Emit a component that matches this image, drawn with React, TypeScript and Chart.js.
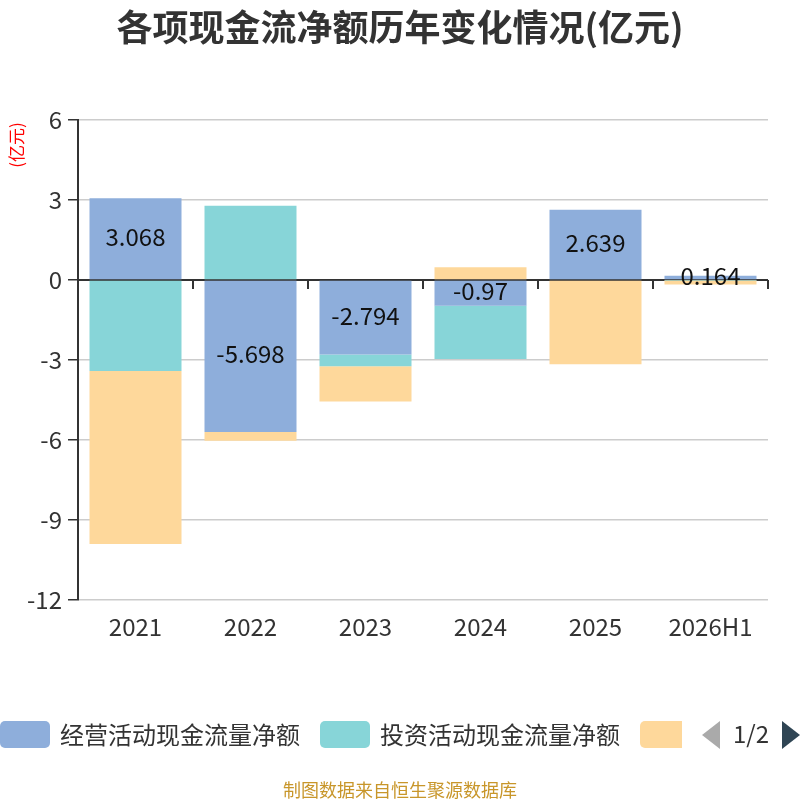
import React, { useEffect, useRef } from 'react';
import { Chart, registerables } from 'chart.js';

Chart.register(...registerables);

const categories = ['2021', '2022', '2023', '2024', '2025', '2026H1'];
const operatingCash = [3.068, -5.698, -2.794, -0.97, 2.639, 0.164];
const investingCash = [-3.41, 2.78, -0.44, -1.99, -0.03, -0.01];
const financingCash = [-6.49, -0.33, -1.32, 0.48, -3.13, -0.16];
const seriesNames = ['经营活动现金流量净额', '投资活动现金流量净额', '筹资活动现金流量净额'];
const seriesColors = ['#8eaedb', '#87d5d8', '#fed89b'];

const CJK = '"Noto Sans CJK SC", "Noto Sans", sans-serif';

const decorPlugin = {
  id: 'decor',
  beforeDatasetsDraw(chart: any) {
    const { ctx, chartArea, scales } = chart;
    const y0 = scales.y.getPixelForValue(0);
    ctx.save();
    ctx.strokeStyle = '#333';
    ctx.lineWidth = 2;
    ctx.beginPath();
    ctx.moveTo(chartArea.left, y0);
    ctx.lineTo(chartArea.right, y0);
    const step = (chartArea.right - chartArea.left) / categories.length;
    for (let i = 1; i <= categories.length; i++) {
      const x = Math.round(chartArea.left + step * i);
      ctx.moveTo(x, y0);
      ctx.lineTo(x, y0 + 9);
    }
    ctx.stroke();
    ctx.restore();
  },
  afterDatasetsDraw(chart: any) {
    const { ctx } = chart;
    const meta = chart.getDatasetMeta(0);
    ctx.save();
    ctx.fillStyle = '#111';
    ctx.font = `24px ${CJK}`;
    ctx.textAlign = 'center';
    ctx.textBaseline = 'middle';
    meta.data.forEach((bar: any, i: number) => {
      const cy = (bar.y + bar.base) / 2 - 2;
      ctx.fillText(String(operatingCash[i]), bar.x, cy);
    });
    ctx.restore();
  },
  afterDraw(chart: any) {
    const { ctx } = chart;
    ctx.save();
    // title
    ctx.fillStyle = '#333';
    ctx.font = `bold 36px ${CJK}`;
    ctx.textAlign = 'center';
    ctx.textBaseline = 'middle';
    ctx.fillText('各项现金流净额历年变化情况(亿元)', 400, 27);

    // unit label
    ctx.save();
    ctx.translate(17, 145);
    ctx.rotate(-Math.PI / 2);
    ctx.fillStyle = '#ff0000';
    ctx.font = `17px ${CJK}`;
    ctx.fillText('(亿元)', 0, 0);
    ctx.restore();

    // legend
    const boxes = [
      { x: 0, w: 50 },
      { x: 320, w: 50 },
      { x: 640, w: 42 },
    ];
    ctx.font = `24px ${CJK}`;
    ctx.textAlign = 'left';
    boxes.forEach((b, i) => {
      ctx.fillStyle = seriesColors[i];
      ctx.beginPath();
      ctx.roundRect(b.x, 721, b.w, 27, i === 2 ? [5, 0, 0, 5] : 5);
      ctx.fill();
      if (i < 2) {
        ctx.fillStyle = '#333';
        ctx.fillText(seriesNames[i], b.x + 60, 735);
      }
    });
    // pager
    ctx.fillStyle = '#aaa';
    ctx.beginPath();
    ctx.moveTo(702, 735);
    ctx.lineTo(720, 721);
    ctx.lineTo(720, 749);
    ctx.closePath();
    ctx.fill();
    ctx.fillStyle = '#333';
    ctx.textAlign = 'center';
    ctx.fillText('1/2', 751, 734);
    ctx.fillStyle = '#2f4554';
    ctx.beginPath();
    ctx.moveTo(800, 735);
    ctx.lineTo(782, 721);
    ctx.lineTo(782, 749);
    ctx.closePath();
    ctx.fill();

    // footer
    ctx.fillStyle = '#c8962a';
    ctx.font = `18px ${CJK}`;
    ctx.fillText('制图数据来自恒生聚源数据库', 400, 790);
    ctx.restore();
  },
};

const App: React.FC = () => {
  const chartRef = useRef<HTMLCanvasElement | null>(null);
  const chartInstance = useRef<Chart | null>(null);

  useEffect(() => {
    document.body.style.margin = '0';
    if (!chartRef.current) return;
    if (chartInstance.current) chartInstance.current.destroy();

    const values = [operatingCash, investingCash, financingCash];
    chartInstance.current = new Chart(chartRef.current, {
      type: 'bar',
      data: {
        labels: categories,
        datasets: values.map((data, i) => ({
          label: seriesNames[i],
          data,
          backgroundColor: seriesColors[i],
          borderWidth: 0,
          categoryPercentage: 0.8,
          barPercentage: 1,
        })),
      },
      options: {
        responsive: false,
        animation: false,
        devicePixelRatio: 1,
        layout: { padding: { top: 120, right: 32, left: 0, bottom: 0 } },
        plugins: {
          legend: { display: false },
          title: { display: false },
          tooltip: { enabled: false },
        },
        scales: {
          x: {
            stacked: true,
            grid: { display: false },
            border: { display: false },
            ticks: {
              color: '#333',
              font: { size: 24, family: CJK },
              padding: 4,
            },
            afterFit: (scale: any) => {
              scale.height = 200;
            },
          },
          y: {
            stacked: true,
            min: -12,
            max: 6,
            ticks: {
              stepSize: 3,
              color: '#333',
              font: { size: 24, family: CJK },
              padding: 6,
            },
            grid: {
              color: '#cccccc',
              lineWidth: 1.5,
              tickColor: '#333',
              tickLength: 10,
            },
            border: { color: '#333', width: 2 },
            afterFit: (scale: any) => {
              scale.width = 78;
            },
          },
        },
      },
      plugins: [decorPlugin],
    });

    return () => {
      if (chartInstance.current) {
        chartInstance.current.destroy();
        chartInstance.current = null;
      }
    };
  }, []);

  return (
    <div style={{ width: 800, height: 800 }}>
      <canvas ref={chartRef} width={800} height={800}></canvas>
    </div>
  );
};

export default App;
